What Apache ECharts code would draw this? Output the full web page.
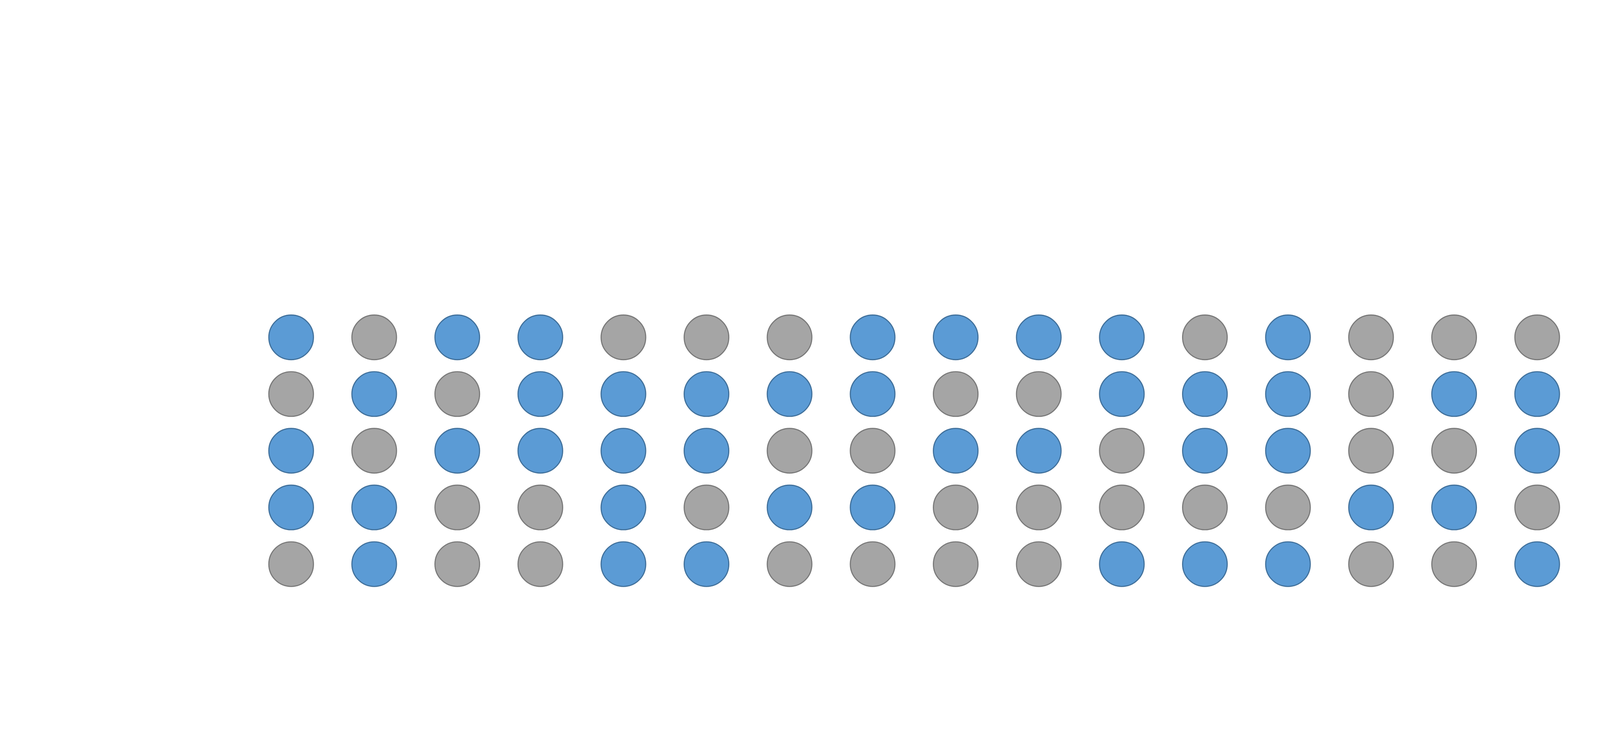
<!DOCTYPE html>
<html>
<head>
<meta charset="utf-8">
<title>Dot grid</title>
<script src="https://cdn.jsdelivr.net/npm/echarts@6/dist/echarts.min.js"></script>
<style>
  html, body { margin: 0; padding: 0; background: #fff; overflow: hidden; }
  #chart { width: 100vw; height: 100vh; }
</style>
</head>
<body>
<div id="chart"></div>
<script>
// column and row categories of the dot grid
const columns = ['1', '2', '3', '4', '5', '6', '7', '8', '9', '10', '11', '12', '13', '14', '15', '16'];
const rows = ['1', '2', '3', '4', '5'];

// one entry per column, top to bottom: 1 = blue dot, 0 = grey dot
const cellFlags = [
  [1, 0, 1, 1, 0],
  [0, 1, 0, 1, 1],
  [1, 0, 1, 0, 0],
  [1, 1, 1, 0, 0],
  [0, 1, 1, 1, 1],
  [0, 1, 1, 0, 1],
  [0, 1, 0, 1, 0],
  [1, 1, 0, 1, 0],
  [1, 0, 1, 0, 0],
  [1, 0, 1, 0, 0],
  [1, 1, 0, 0, 1],
  [0, 1, 1, 0, 1],
  [1, 1, 1, 0, 1],
  [0, 0, 0, 1, 0],
  [0, 1, 0, 1, 0],
  [0, 1, 1, 0, 1]
];

let blueDots = [];
let greyDots = [];
cellFlags.forEach(function (col, ci) {
  col.forEach(function (flag, ri) {
    if (flag === 1) {
      blueDots.push([columns[ci], rows[ri]]);
    } else {
      greyDots.push([columns[ci], rows[ri]]);
    }
  });
});

let chart = echarts.init(document.getElementById('chart'), null, { renderer: 'canvas' });

// dot diameter is about 6% of the picture height
function dotSize() {
  return chart.getHeight() * 0.0595;
}

function buildOption() {
  let size = dotSize();
  let border = Math.max(1, size / 40);
  return {
    animation: false,
    backgroundColor: '#ffffff',
    grid: {
      left: '15.6%',
      right: '1.33%',
      top: '41.2%',
      bottom: '21%'
    },
    xAxis: {
      type: 'category',
      data: columns,
      boundaryGap: true,
      show: false
    },
    yAxis: {
      type: 'category',
      data: rows,
      boundaryGap: true,
      inverse: true,
      show: false
    },
    series: [
      {
        name: 'blue',
        type: 'scatter',
        symbol: 'circle',
        symbolSize: size,
        data: blueDots,
        itemStyle: {
          color: '#5b9bd5',
          borderColor: '#41719c',
          borderWidth: border,
          opacity: 1
        }
      },
      {
        name: 'grey',
        type: 'scatter',
        symbol: 'circle',
        symbolSize: size,
        data: greyDots,
        itemStyle: {
          color: '#a5a5a5',
          borderColor: '#7a7a7a',
          borderWidth: border,
          opacity: 1
        }
      }
    ]
  };
}

chart.setOption(buildOption());
window.addEventListener('resize', function () {
  chart.resize();
  chart.setOption(buildOption());
});
</script>
</body>
</html>
